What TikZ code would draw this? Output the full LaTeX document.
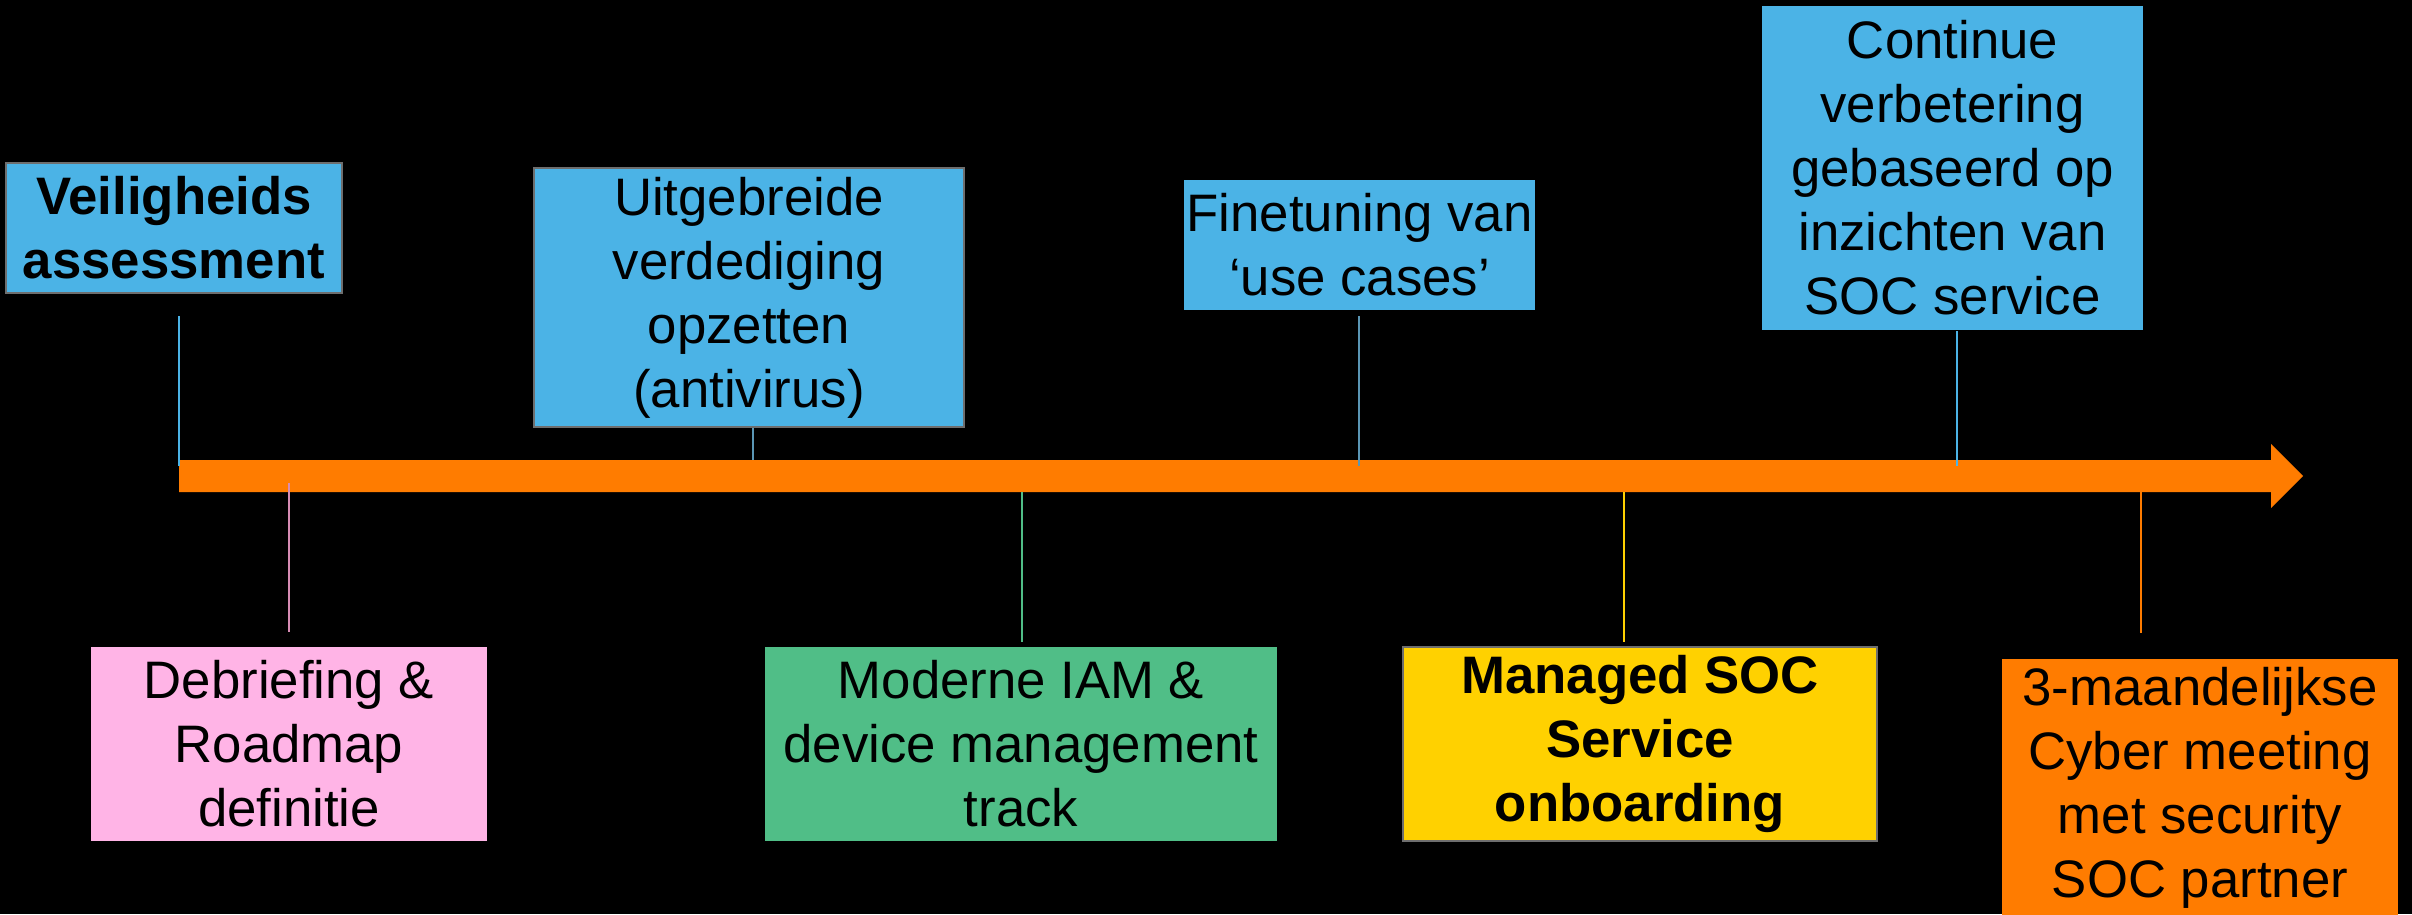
\documentclass[tikz,border=0pt]{standalone}
\usepackage{fontspec}
\setmainfont{Liberation Sans}
\usetikzlibrary{positioning,calc}

\definecolor{skyblue}{RGB}{75,179,230}
\definecolor{rosepink}{RGB}{255,180,230}
\definecolor{mintgreen}{RGB}{80,190,135}
\definecolor{sunyellow}{RGB}{255,209,0}
\definecolor{tlorange}{RGB}{255,124,0}
\definecolor{edgegray}{RGB}{110,110,110}
\definecolor{pinkline}{RGB}{215,140,180}
\definecolor{steelline}{RGB}{90,150,180}

\newcommand{\evfont}{\fontsize{15}{18.2}\selectfont}

\tikzset{
  event/.style={inner sep=0pt, align=center, text=black, font=\evfont},
  bold/.style={font=\evfont\bfseries},
  framed/.style={draw=edgegray, line width=0.5pt},
  link/.style={draw=#1, line width=0.45pt}
}

\begin{document}
\begin{tikzpicture}[x=0.01cm, y=-0.01cm]
    \fill[black] (0,0) rectangle (2412,914);
    \useasboundingbox (0,0) rectangle (2412,914);

    % timeline
    \coordinate (start) at (179,476);
    \coordinate (tip) at (2303,476);
    \fill[tlorange] ($(start)+(0,-16)$) -- ($(tip)+(-32,-16)$) -- ($(tip)+(-32,-32)$)
        -- (tip) -- ($(tip)+(-32,32)$) -- ($(tip)+(-32,16)$) -- ($(start)+(0,16)$) -- cycle;

    % points on the timeline
    \coordinate (t1) at (179,476);
    \coordinate (t2) at (289,476);
    \coordinate (t3) at (753,476);
    \coordinate (t4) at (1022,476);
    \coordinate (t5) at (1359,476);
    \coordinate (t6) at (1624,476);
    \coordinate (t7) at (1957,476);
    \coordinate (t8) at (2141,476);

    % above the line
    \node[event, bold, framed, fill=skyblue, minimum width=3.36cm, minimum height=1.3cm] (veil) at (174,228) {Veiligheids\\assessment};
    \node[event, framed, fill=skyblue, minimum width=4.3cm, minimum height=2.59cm] (uitg) at (749,297.5) {Uitgebreide\\verdediging\\opzetten\\(antivirus)};
    \node[event, fill=skyblue, minimum width=3.51cm, minimum height=1.3cm] (fine) at (1359.5,245) {Finetuning van\\`use cases'};
    \node[event, fill=skyblue, minimum width=3.81cm, minimum height=3.24cm] (cont) at (1952.5,168) {Continue\\verbetering\\gebaseerd op\\inzichten van\\SOC service};

    % below the line
    \node[event, fill=rosepink, minimum width=3.96cm, minimum height=1.94cm] (debr) at (289,744) {Debriefing \&\\Roadmap\\definitie};
    \node[event, fill=mintgreen, minimum width=5.12cm, minimum height=1.94cm] (iam) at (1021,744) {Moderne IAM \&\\device management\\track};
    \node[event, bold, framed, fill=sunyellow, minimum width=4.74cm, minimum height=1.94cm] (soc) at (1640,744) {Managed SOC\\Service\\onboarding};
    \node[event, fill=tlorange, minimum width=3.96cm, minimum height=2.58cm] (cyber) at (2200,788) {3-maandelijkse\\Cyber meeting\\met security\\SOC partner};

    \draw[link=skyblue, shorten <=0.1cm, shorten >=0.22cm] (t1) -- (t1 |- veil.south);
    \draw[link=steelline, shorten <=0.16cm] (t3) -- (t3 |- uitg.south);
    \draw[link=steelline, shorten <=0.1cm, shorten >=0.05cm] (t5) -- (t5 |- fine.south);
    \draw[link=skyblue, shorten <=0.1cm] (t7) -- (t7 |- cont.south);
    \draw[link=pinkline, shorten <=0.07cm, shorten >=0.14cm] (t2) -- (t2 |- debr.north);
    \draw[link=mintgreen, shorten <=0.16cm, shorten >=0.04cm] (t4) -- (t4 |- iam.north);
    \draw[link=sunyellow, shorten <=0.16cm, shorten >=0.04cm] (t6) -- (t6 |- soc.north);
    \draw[link=tlorange, shorten <=0.16cm, shorten >=0.25cm] (t8) -- (t8 |- cyber.north);
\end{tikzpicture}
\end{document}
